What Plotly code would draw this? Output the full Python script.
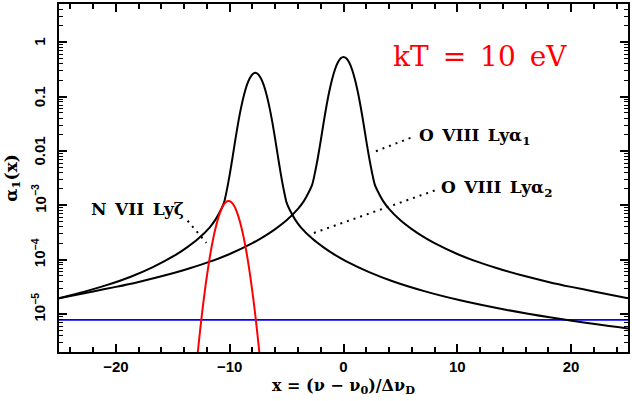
import math
import plotly.graph_objects as go

# ---- data ----
# O VIII Ly alpha_1 (centred at x = 0)
lya1_x = [-25, -22, -20, -18, -16, -14, -12, -10, -8, -7, -6, -5, -4, -3.5, -3, -2.75, -2.5, -2.25, -2,
          -1.75, -1.5, -1.25, -1, -0.75, -0.5, -0.25, 0, 0.25, 0.5, 0.75, 1, 1.25, 1.5, 1.75, 2, 2.25,
          2.5, 2.75, 3, 3.5, 4, 5, 6, 7, 8, 10, 12, 14, 16, 18, 20, 22, 25]
lya1_y = [1.95e-5, 2.6e-5, 3.15e-5, 3.89e-5, 4.93e-5, 6.45e-5, 8.79e-5, 1.27e-4, 2.01e-4, 2.65e-4,
          3.65e-4, 5.3e-4, 8.6e-4, 1.18e-3, 1.83e-3, 2.4e-3, 4.06e-3, 7.6e-3, 0.0155,
          0.033, 0.0666, 0.124, 0.209, 0.316, 0.425, 0.508, 0.539, 0.508, 0.425, 0.316, 0.209, 0.124,
          0.0666, 0.033, 0.0155, 7.6e-3, 4.06e-3, 2.4e-3, 1.83e-3, 1.18e-3, 8.6e-4, 5.3e-4, 3.65e-4,
          2.65e-4, 2.01e-4, 1.27e-4, 8.79e-5, 6.45e-5, 4.93e-5, 3.89e-5, 3.15e-5, 2.6e-5, 1.95e-5]

# O VIII Ly alpha_2 (centred near x = -7.75)
lya2_x = [-25, -22.75, -20.75, -18.75, -16.75, -14.75, -13.75, -12.75, -11.75, -11.25, -10.75, -10.5,
          -10.25, -10, -9.75, -9.5, -9.25, -9, -8.75, -8.5, -8.25, -8, -7.75, -7.5, -7.25, -7, -6.75,
          -6.5, -6.25, -6, -5.75, -5.5, -5.25, -5, -4.75, -4.25, -3.75, -2.75, -1.75, -0.75, 0.25,
          2.25, 4.25, 7.25, 10.25, 14.25, 18.25, 22.25, 25]
lya2_y = [1.95e-5, 2.58e-5, 3.43e-5, 4.8e-5, 7.3e-5, 1.22e-4, 1.68e-4, 2.44e-4, 3.94e-4, 5.45e-4,
          8.45e-4, 1.12e-3, 1.92e-3, 3.68e-3, 7.63e-3, 0.0164, 0.0335, 0.0627, 0.1063, 0.161, 0.2165,
          0.259, 0.275, 0.259, 0.2165, 0.161, 0.1063, 0.0627, 0.0335, 0.0164, 7.63e-3, 3.68e-3,
          1.92e-3, 1.12e-3, 8.45e-4, 5.45e-4, 3.94e-4, 2.44e-4, 1.68e-4, 1.22e-4, 9.27e-5, 5.89e-5,
          4.05e-5, 2.58e-5, 1.79e-5, 1.2e-5, 8.58e-6, 6.44e-6, 5.41e-6]

# N VII Ly zeta (red)
lyz_x = [-13.1, -12.85, -12.6, -12.35, -12.1, -11.85, -11.6, -11.35, -11.1, -10.85, -10.6, -10.35,
         -10.1, -9.85, -9.6, -9.35, -9.1, -8.85, -8.6, -8.35, -8.1, -7.85, -7.6, -7.35, -7.1]
lyz_y = [4.5e-7, 1.58e-6, 5.0e-6, 1.42e-5, 3.6e-5, 8.2e-5, 1.67e-4, 3.05e-4, 5.0e-4, 7.35e-4,
         9.66e-4, 1.14e-3, 1.2e-3, 1.14e-3, 9.66e-4, 7.35e-4, 5.0e-4, 3.05e-4, 1.67e-4, 8.2e-5,
         3.6e-5, 1.42e-5, 5.0e-6, 1.58e-6, 4.5e-7]

# blue horizontal level
level_x = [-25, 25]
level_y = [7.8e-6, 7.8e-6]

# leader (dotted) lines for labels
lead1_x = [2.85, 6.0]
lead1_y = [9.9e-3, 0.0178]
lead2_x = [-2.6, 8.1]
lead2_y = [3.1e-4, 1.9e-3]
leadz_x = [-13.7, -12.05]
leadz_y = [5.2e-4, 2.04e-4]

y_tickvals = [1, 0.1, 0.01, 1e-3, 1e-4, 1e-5]
y_ticktext = ["1", "0.1", "0.01", "10<sup>−3</sup>", "10<sup>−4</sup>", "10<sup>−5</sup>"]
x_tickvals = [-20, -10, 0, 10, 20]

fig = go.Figure()
fig.add_trace(go.Scatter(x=level_x, y=level_y, mode="lines",
                         line=dict(color="#0000ff", width=1.8)))
fig.add_trace(go.Scatter(x=lya1_x, y=lya1_y, mode="lines",
                         line=dict(color="black", width=2, shape="spline", smoothing=0.8)))
fig.add_trace(go.Scatter(x=lya2_x, y=lya2_y, mode="lines",
                         line=dict(color="black", width=2, shape="spline", smoothing=0.8)))
fig.add_trace(go.Scatter(x=lyz_x, y=lyz_y, mode="lines",
                         line=dict(color="#ff0000", width=2, shape="spline", smoothing=0.8)))
for lx, ly in [(lead1_x, lead1_y), (lead2_x, lead2_y), (leadz_x, leadz_y)]:
    fig.add_trace(go.Scatter(x=lx, y=ly, mode="lines",
                             line=dict(color="black", width=2, dash="2px,5px")))

tickfont = dict(family="Liberation Sans", size=15, color="black", weight="bold")

fig.update_layout(
    width=632, height=401,
    margin=dict(l=59, r=2, t=2, b=49),
    paper_bgcolor="white", plot_bgcolor="white",
    showlegend=False,
    xaxis=dict(range=[-25, 25], tickmode="array", tickvals=x_tickvals,
               ticks="inside", ticklen=8, tickwidth=1.5, tickcolor="black",
               minor=dict(dtick=2, ticks="inside", ticklen=5, tickwidth=1.5, tickcolor="black"),
               showline=True, linewidth=2, linecolor="black", mirror="allticks",
               showgrid=False, zeroline=False, tickfont=tickfont),
    yaxis=dict(type="log", range=[-5.70, 0.705], tickmode="array",
               tickvals=y_tickvals, showticklabels=False,
               ticks="inside", ticklen=8, tickwidth=1.5, tickcolor="black",
               minor=dict(dtick="D1", ticks="inside", ticklen=4, tickwidth=1.2, tickcolor="black"),
               showline=True, linewidth=2, linecolor="black", mirror="allticks",
               showgrid=False, zeroline=False),
)

# y tick labels (rotated, as in the reference)
for v, t in zip(y_tickvals, y_ticktext):
    fig.add_annotation(xref="paper", yref="y", x=-0.0158, y=math.log10(v), text=t,
                       textangle=-90, showarrow=False, xanchor="right", yanchor="middle",
                       yshift=7 if "sup" in t else 0, font=tickfont)

fig.add_annotation(xref="paper", yref="paper", x=0.740, y=0.8486, text="kT\u2002=\u200210\u2002eV",
                   showarrow=False, xanchor="center", yanchor="middle",
                   font=dict(family="DejaVu Serif", size=28, color="#ff0000"))
lab_font = dict(family="DejaVu Serif", size=17, color="black", weight="bold")
fig.add_annotation(xref="paper", yref="paper", x=0.630, y=0.620,
                   text="O\u2002VIII\u2002Lyα<sub>1</sub>",
                   showarrow=False, xanchor="left", yanchor="middle", font=lab_font)
fig.add_annotation(xref="paper", yref="paper", x=0.667, y=0.469,
                   text="O\u2002VIII\u2002Lyα<sub>2</sub>",
                   showarrow=False, xanchor="left", yanchor="middle", font=lab_font)
fig.add_annotation(xref="paper", yref="paper", x=0.0525, y=0.411, text="N\u2002VII\u2002Lyζ",
                   showarrow=False, xanchor="left", yanchor="middle", font=lab_font)
fig.add_annotation(xref="paper", yref="paper", x=0.5, y=-0.062,
                   text="x = (ν − ν<sub>0</sub>)/Δν<sub>D</sub>",
                   showarrow=False, xanchor="center", yanchor="top",
                   font=dict(family="DejaVu Serif", size=16, color="black", weight="bold"))
fig.add_annotation(xref="paper", yref="paper", x=-0.083, y=0.5,
                   text="α<sub>1</sub>(x)", textangle=-90,
                   showarrow=False, xanchor="center", yanchor="middle",
                   font=dict(family="DejaVu Serif", size=17, color="black", weight="bold"))

fig.write_html("out.html", config={"displayModeBar": False},
               post_script="document.body.style.margin='0';")
